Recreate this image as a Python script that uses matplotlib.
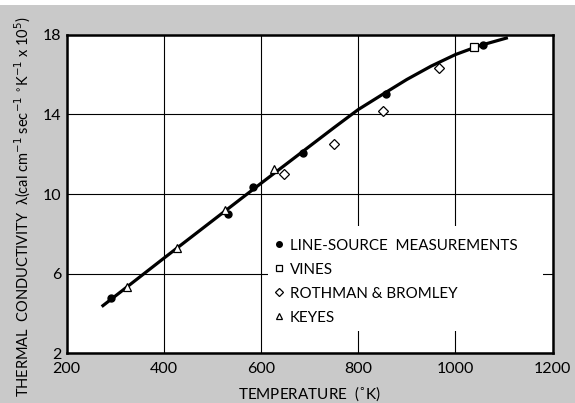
import matplotlib.pyplot as plt
from matplotlib.patches import Rectangle

plt.rcParams['font.family'] = ['Lato', 'DejaVu Sans']
plt.rcParams['mathtext.fontset'] = 'dejavusans'

# smooth curve
curve_t = [272, 300, 350, 400, 450, 500, 550, 600, 650, 700, 750, 800,
           850, 900, 950, 1000, 1050, 1108]
curve_k = [4.35, 4.88, 5.83, 6.78, 7.72, 8.66, 9.60, 10.54, 11.47, 12.40,
           13.33, 14.24, 15.00, 15.75, 16.42, 17.00, 17.45, 17.85]

# measured points
line_t = [292, 533, 584, 687, 857, 1057]
line_k = [4.77, 9.00, 10.37, 12.07, 15.00, 17.48]

vines_t = [1038]
vines_k = [17.40]

rb_t = [647, 750, 851, 966]
rb_k = [10.99, 12.52, 14.15, 16.32]

keyes_t = [325, 426, 526, 627]
keyes_k = [5.33, 7.31, 9.20, 11.27]

xticks = [200, 400, 600, 800, 1000, 1200]
yticks = [2, 6, 10, 14, 18]

bg = '#c9c9c9'
fig = plt.figure(figsize=(5.75, 4.03), dpi=100, facecolor=bg)
fig.patches.append(Rectangle((0, 1 - 5 / 403), 1, 5 / 403, transform=fig.transFigure,
                             facecolor='white', edgecolor='none', zorder=0))
ax = fig.add_axes([0.116, 0.123, 0.845, 0.791])

ax.set_xlim(200, 1200)
ax.set_ylim(2, 18)
ax.set_xticks(xticks)
ax.set_yticks(yticks)
ax.set_xticklabels([str(t) for t in xticks])
ax.set_yticklabels([str(t) for t in yticks])
ax.grid(True, color='black', linewidth=0.8, zorder=1)
ax.set_axisbelow(True)
ax.tick_params(length=0, labelsize=11.5)
ax.tick_params(axis='x', pad=6)
ax.tick_params(axis='y', pad=4)
for s in ax.spines.values():
    s.set_linewidth(1.8)

# white patch behind the key, hides the grid there
ax.add_patch(Rectangle((0.414, 0.07), 0.566, 0.33, transform=ax.transAxes,
                       facecolor='white', edgecolor='none', zorder=2))

ax.plot(curve_t, curve_k, color='black', linewidth=2.3, zorder=3,
        solid_capstyle='butt')
ax.plot(line_t, line_k, 'o', color='black', markersize=5, zorder=4,
        label='LINE-SOURCE  MEASUREMENTS')
ax.plot(vines_t, vines_k, 's', markerfacecolor='white', markeredgecolor='black',
        markeredgewidth=0.9, markersize=5.5, zorder=4, label='VINES')
ax.plot(rb_t, rb_k, 'D', markerfacecolor='white', markeredgecolor='black',
        markeredgewidth=0.9, markersize=5, zorder=4, label='ROTHMAN & BROMLEY')
ax.plot(keyes_t, keyes_k, '^', markerfacecolor='white', markeredgecolor='black',
        markeredgewidth=0.9, markersize=5.5, zorder=4, label='KEYES')

leg = ax.legend(loc='upper left', bbox_to_anchor=(0.405, 0.393), frameon=False,
                fontsize=10.9, handlelength=0.6, handletextpad=0.45,
                labelspacing=0.66, markerscale=0.8, borderpad=0.2)
leg.set_zorder(5)

ax.set_xlabel('TEMPERATURE  ($^{\\circ}$K)', fontsize=11)
ax.xaxis.set_label_coords(0.5, -0.098)
ax.set_ylabel('THERMAL  CONDUCTIVITY  \u03bb(cal cm$^{-1}$ sec$^{-1}$ $^{\\circ}$K$^{-1}$ x 10$^{5}$)',
              fontsize=10.5)
ax.yaxis.set_label_coords(-0.069, 0.46)

fig.savefig('out.png', dpi=100, facecolor=bg)
